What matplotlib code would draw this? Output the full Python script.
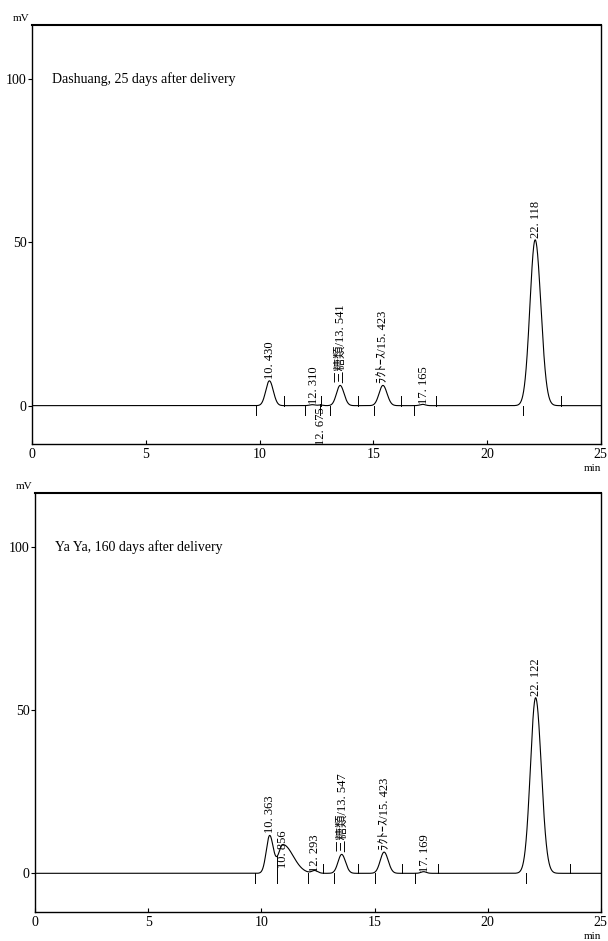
import numpy as np
import matplotlib
matplotlib.use("Agg")
import matplotlib.pyplot as plt

plt.rcParams['font.family'] = ['Liberation Serif', 'Noto Sans CJK JP', 'DejaVu Sans']

# ---------------- data ----------------
titles = ["Dashuang, 25 days after delivery", "Ya Ya, 160 days after delivery"]

# panel 1 peaks
p1_rt = [10.430, 12.310, 12.675, 13.541, 15.423, 17.165, 22.118]
p1_height = [7.6, 0.3, 0.2, 6.2, 6.2, 0.4, 50.8]
p1_sigma_l = [0.16, 0.12, 0.10, 0.16, 0.17, 0.12, 0.23]
p1_sigma_r = [0.17, 0.12, 0.10, 0.17, 0.18, 0.12, 0.25]
p1_labels = ["10. 430", "12. 310", "12. 675", "三糖類/13. 541", "ﾗｸﾄｰｽ/15. 423", "17. 165", "22. 118"]
p1_starts = [9.82, 12.0, 13.1, 15.04, 16.8, 21.6]
p1_ends = [11.08, 12.7, 14.34, 16.2, 17.76, 23.25]

# panel 2 peaks
p2_rt = [10.363, 10.856, 12.293, 13.547, 15.423, 17.169, 22.122]
p2_center = [10.363, 10.95, 12.35, 13.547, 15.423, 17.169, 22.122]
p2_height = [11.5, 8.8, 0.8, 5.8, 6.5, 0.5, 53.8]
p2_sigma_l = [0.15, 0.2, 0.12, 0.16, 0.17, 0.12, 0.23]
p2_sigma_r = [0.16, 0.45, 0.14, 0.17, 0.18, 0.12, 0.25]
p2_labels = ["10. 363", "10. 856", "12. 293", "三糖類/13. 547", "ﾗｸﾄｰｽ/15. 423", "17. 169", "22. 122"]
p2_starts = [9.73, 12.08, 13.19, 15.0, 16.8, 21.7]
p2_ends = [12.74, 14.28, 16.22, 17.79, 23.66]
p2_split = [10.69]

x_ticks = [0, 5, 10, 15, 20, 25]
y_ticks = [0, 50, 100]


def trace(t, centers, heights, sl, sr):
    y = np.zeros_like(t)
    for c, h, a, b in zip(centers, heights, sl, sr):
        s = np.where(t < c, a, b)
        y += h * np.exp(-0.5 * ((t - c) / s) ** 2)
    return y


fig = plt.figure(figsize=(6.08, 9.41), dpi=100)
ax1 = fig.add_axes([0.053, 0.528, 0.935, 0.445])
ax2 = fig.add_axes([0.058, 0.031, 0.930, 0.445])

t = np.linspace(0, 25, 5000)
lab_font = dict(family=['Liberation Serif', 'Noto Sans CJK JP'], fontsize=9)

panels = [
    (ax1, p1_rt, p1_rt, p1_height, p1_sigma_l, p1_sigma_r, p1_labels, p1_starts, p1_ends, []),
    (ax2, p2_rt, p2_center, p2_height, p2_sigma_l, p2_sigma_r, p2_labels, p2_starts, p2_ends, p2_split),
]

for i, (ax, rts, cen, hts, sl, sr, labs, starts, ends, splits) in enumerate(panels):
    y = trace(t, cen, hts, sl, sr)
    ax.plot(t, y, color='black', lw=0.8)
    ax.set_xlim(0, 25)
    ax.set_ylim(-11.8, 116.5)
    for s in starts:
        ax.plot([s, s], [0, -3.0], color='black', lw=0.7)
    for e in ends:
        ax.plot([e, e], [0, 3.0], color='black', lw=0.7)
    for sp in splits:
        ax.plot([sp, sp], [-3.0, float(np.interp(sp, t, y))], color='black', lw=0.7)
    for rt, lab, h in zip(rts, labs, hts):
        yv = float(np.interp(rt, t, y))
        if lab.startswith("12. 675"):
            ax.plot([rt, rt], [-3.0, 0.5], color='black', lw=0.7)
            ax.text(rt + 0.02, -0.6, lab, rotation=90, ha='center', va='top', **lab_font)
            continue
        if lab.startswith("10. 856"):
            ax.text(rt + 0.1, 1.5, lab, rotation=90, ha='center', va='bottom', **lab_font)
            continue
        base = yv + 0.6 if h > 2 else 0.4
        xo = rt + (0.08 if h < 2 else 0.03)
        ax.text(xo, base, lab, rotation=90, ha='center', va='bottom', **lab_font)

    ax.set_xticks(x_ticks)
    ax.set_yticks(y_ticks)
    ax.tick_params(axis='x', direction='in', length=3, width=0.8, labelsize=10, pad=3)
    ax.tick_params(axis='y', direction='out', length=3, width=0.8, labelsize=10, pad=1)
    for sp in ax.spines.values():
        sp.set_linewidth(1.0)
    ax.spines['top'].set_linewidth(1.5)
    ax.text(0.035, 100, titles[i], fontsize=10, va='center', ha='left',
            transform=ax.get_yaxis_transform())
    ax.text(-0.005, 1.005, "mV", transform=ax.transAxes, fontsize=8, ha='right', va='bottom')
    ax.text(1.0, -0.047, "min", transform=ax.transAxes, fontsize=8, ha='right', va='top')

fig.savefig("out.png", dpi=100, facecolor='white')
